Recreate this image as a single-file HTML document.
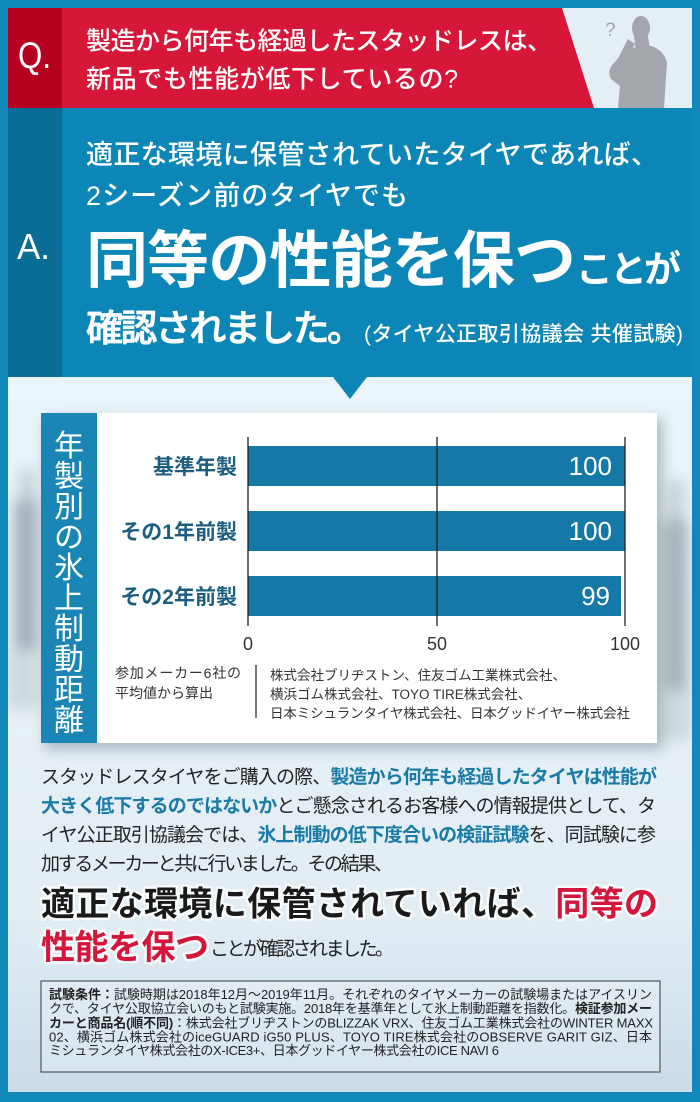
<!DOCTYPE html>
<html><head><meta charset="utf-8">
<style>
html,body{margin:0;padding:0;background:#0e87b7;}
svg{display:block;}
text{font-family:"Liberation Sans","Noto Sans CJK JP",sans-serif;}
</style></head>
<body>
<svg width="700" height="1102" viewBox="0 0 700 1102" xmlns="http://www.w3.org/2000/svg">
<defs>
<linearGradient id="bg" x1="0" y1="0" x2="0" y2="1">
<stop offset="0" stop-color="#e9f4fb"/>
<stop offset="0.45" stop-color="#e6f0f6"/>
<stop offset="0.75" stop-color="#e2edf3"/>
<stop offset="1" stop-color="#cadce8"/>
</linearGradient>
<filter id="blur8" x="-50%" y="-50%" width="200%" height="200%"><feGaussianBlur stdDeviation="7"/></filter>
<filter id="blur5" x="-20%" y="-20%" width="140%" height="140%"><feGaussianBlur stdDeviation="6"/></filter>
<clipPath id="lightclip"><rect x="8" y="377" width="684" height="715"/></clipPath>
</defs>

<!-- outer blue -->
<rect x="0" y="0" width="700" height="1102" fill="#1088b9"/>

<!-- Q band -->
<rect x="8" y="8" width="684" height="100" fill="#d6173a"/>
<rect x="8" y="8" width="54" height="100" fill="#b5001f"/>
<polygon points="562,8 692,8 692,108 594,108" fill="#e3eef5"/>
<!-- silhouette -->
<g fill="#a3a7ab">
<ellipse cx="641" cy="28" rx="9" ry="12"/>
<path d="M634,36 L648,36 L650,50 L636,52 Z"/>
<path d="M618,108 L620,86 L611,79 Q606,70 615,62 L622,53 Q632,47 648,45 Q664,49 667,63 L664,108 Z"/>
<path d="M613,68 L623,68 L635,44 L628,39 Z"/>
</g>
<text x="605" y="36" font-size="19" fill="#a3a7ab">?</text>
<text x="18" y="68" font-size="37" fill="#fff" textLength="33" lengthAdjust="spacingAndGlyphs">Q.</text>
<text x="86" y="49.5" font-size="25" fill="#fff" font-weight="500" textLength="466" lengthAdjust="spacing">製造から何年も経過したスタッドレスは、</text>
<text x="86" y="87.5" font-size="25" fill="#fff" font-weight="500" textLength="372" lengthAdjust="spacing">新品でも性能が低下しているの?</text>

<!-- A section -->
<rect x="8" y="108" width="684" height="270" fill="#0c86b6"/>
<rect x="8" y="108" width="54" height="269" fill="#0a6d98"/>
<text x="17" y="259" font-size="36" fill="#fff" textLength="33" lengthAdjust="spacingAndGlyphs">A.</text>
<text x="86" y="164" font-size="27" fill="#fff" font-weight="500" textLength="572" lengthAdjust="spacing">適正な環境に保管されていたタイヤであれば、</text>
<text x="86" y="205" font-size="27" fill="#fff" font-weight="500" textLength="322" lengthAdjust="spacing">2シーズン前のタイヤでも</text>
<text x="86" y="282" font-size="62" fill="#fff" font-weight="bold" textLength="490" lengthAdjust="spacing">同等の性能を保つ</text>
<text x="576" y="282" font-size="37" fill="#fff" font-weight="bold" textLength="105" lengthAdjust="spacing">ことが</text>
<text x="86" y="341" font-size="37" fill="#fff" font-weight="500" stroke="#fff" stroke-width="0.8" textLength="278" lengthAdjust="spacing">確認されました。</text>
<text x="364" y="341" font-size="21" fill="#fff" font-weight="500" textLength="319" lengthAdjust="spacing">(タイヤ公正取引協議会 共催試験)</text>

<!-- light section -->
<rect x="8" y="377" width="684" height="715" fill="url(#bg)"/>
<g clip-path="url(#lightclip)" filter="url(#blur8)">
<rect x="14" y="500" width="24" height="150" fill="#8f9ba3" opacity="0.75"/>
<rect x="20" y="470" width="14" height="40" fill="#a5b0b7" opacity="0.6"/>
<rect x="662" y="520" width="26" height="170" fill="#8f9ba3" opacity="0.7"/>
<rect x="668" y="480" width="16" height="50" fill="#a5b0b7" opacity="0.55"/>
<rect x="8" y="650" width="32" height="60" fill="#b6c1c8" opacity="0.5"/>
<rect x="660" y="690" width="32" height="50" fill="#b6c1c8" opacity="0.5"/>
</g>
<polygon points="333,377 367,377 350,399" fill="#0c86b6"/>

<!-- card -->
<rect x="45" y="418" width="618" height="332" fill="#6d7d88" opacity="0.45" filter="url(#blur5)"/>
<rect x="41" y="413" width="616" height="330" fill="#ffffff"/>
<rect x="41" y="413" width="56" height="330" fill="#1a86b6"/>
<g font-size="30" fill="#fff" text-anchor="middle">
<text x="69" y="456">年</text>
<text x="69" y="486.5">製</text>
<text x="69" y="517">別</text>
<text x="69" y="547.5">の</text>
<text x="69" y="578">氷</text>
<text x="69" y="608.5">上</text>
<text x="69" y="639">制</text>
<text x="69" y="669.5">動</text>
<text x="69" y="700">距</text>
<text x="69" y="730.5">離</text>
</g>

<!-- bars -->
<rect x="248" y="446" width="377" height="40" fill="#1479a7"/>
<rect x="248" y="511" width="377" height="40" fill="#1479a7"/>
<rect x="248" y="576" width="373" height="40" fill="#1479a7"/>
<g stroke="#222" stroke-width="1.3">
<line x1="248" y1="437" x2="248" y2="626"/>
<line x1="437" y1="437" x2="437" y2="626"/>
<line x1="625" y1="437" x2="625" y2="626"/>
</g>
<g font-size="26" fill="#fff" text-anchor="end">
<text x="612" y="475">100</text>
<text x="612" y="540">100</text>
<text x="610" y="605">99</text>
</g>
<g font-size="21" fill="#1c5e7f" font-weight="bold" text-anchor="end">
<text x="237" y="474">基準年製</text>
<text x="237" y="539">その1年前製</text>
<text x="237" y="604">その2年前製</text>
</g>
<g font-size="18" fill="#333" text-anchor="middle">
<text x="248" y="650">0</text>
<text x="437" y="650">50</text>
<text x="625" y="650">100</text>
</g>
<g font-size="14" fill="#333">
<text x="115" y="678" textLength="126" lengthAdjust="spacing">参加メーカー6社の</text>
<text x="115" y="698">平均値から算出</text>
</g>
<line x1="256" y1="665" x2="256" y2="718" stroke="#777" stroke-width="2"/>
<g font-size="13.5" fill="#333">
<text x="270" y="680" textLength="296" lengthAdjust="spacing">株式会社ブリヂストン、住友ゴム工業株式会社、</text>
<text x="270" y="699">横浜ゴム株式会社、TOYO TIRE株式会社、</text>
<text x="270" y="718" textLength="360" lengthAdjust="spacing">日本ミシュランタイヤ株式会社、日本グッドイヤー株式会社</text>
</g>

<!-- paragraph -->
<g font-size="19" fill="#222">
<text x="41" y="783" textLength="616" lengthAdjust="spacing">スタッドレスタイヤをご購入の際、<tspan fill="#1a7ba6" font-weight="bold">製造から何年も経過したタイヤは性能が</tspan></text>
<text x="41" y="812" textLength="615" lengthAdjust="spacing"><tspan fill="#1a7ba6" font-weight="bold">大きく低下するのではないか</tspan>とご懸念されるお客様への情報提供として、タ</text>
<text x="41" y="841" textLength="615" lengthAdjust="spacing">イヤ公正取引協議会では、<tspan fill="#1a7ba6" font-weight="bold">氷上制動の低下度合いの検証試験</tspan>を、同試験に参</text>
<text x="41" y="870" textLength="352" lengthAdjust="spacing">加するメーカーと共に行いました。その結果、</text>
</g>
<text x="41" y="915.5" font-size="34" font-weight="bold" fill="#1a1a1a" stroke="#ffffff" stroke-width="5" stroke-opacity="0.75" stroke-linejoin="round" paint-order="stroke" textLength="617" lengthAdjust="spacing">適正な環境に保管されていれば、<tspan fill="#d4163a">同等の</tspan></text>
<text x="41" y="959" font-size="34" font-weight="bold" fill="#d4163a" stroke="#ffffff" stroke-width="5" stroke-opacity="0.75" stroke-linejoin="round" paint-order="stroke" textLength="168" lengthAdjust="spacing">性能を保つ</text>
<text x="210" y="955" font-size="19" fill="#222" textLength="184" lengthAdjust="spacing">ことが確認されました。</text>

<!-- footnote -->
<rect x="41" y="981" width="619" height="91" fill="#ffffff" fill-opacity="0.22" stroke="#555" stroke-width="1.2"/>
<g font-size="13" fill="#222">
<text x="49" y="999" textLength="603" lengthAdjust="spacing"><tspan font-weight="bold">試験条件：</tspan>試験時期は2018年12月～2019年11月。それぞれのタイヤメーカーの試験場またはアイスリン</text>
<text x="49" y="1013" textLength="603" lengthAdjust="spacing">クで、タイヤ公取協立会いのもと試験実施。2018年を基準年として氷上制動距離を指数化。<tspan font-weight="bold">検証参加メー</tspan></text>
<text x="49" y="1027.5" textLength="604" lengthAdjust="spacing"><tspan font-weight="bold">カーと商品名(順不同)</tspan>：株式会社ブリヂストンのBLIZZAK VRX、住友ゴム工業株式会社のWINTER MAXX</text>
<text x="49" y="1041.5" textLength="603" lengthAdjust="spacing">02、横浜ゴム株式会社のiceGUARD iG50 PLUS、TOYO TIRE株式会社のOBSERVE GARIT GIZ、日本</text>
<text x="49" y="1055" textLength="450" lengthAdjust="spacing">ミシュランタイヤ株式会社のX-ICE3+、日本グッドイヤー株式会社のICE NAVI 6</text>
</g>
</svg>
</body></html>
